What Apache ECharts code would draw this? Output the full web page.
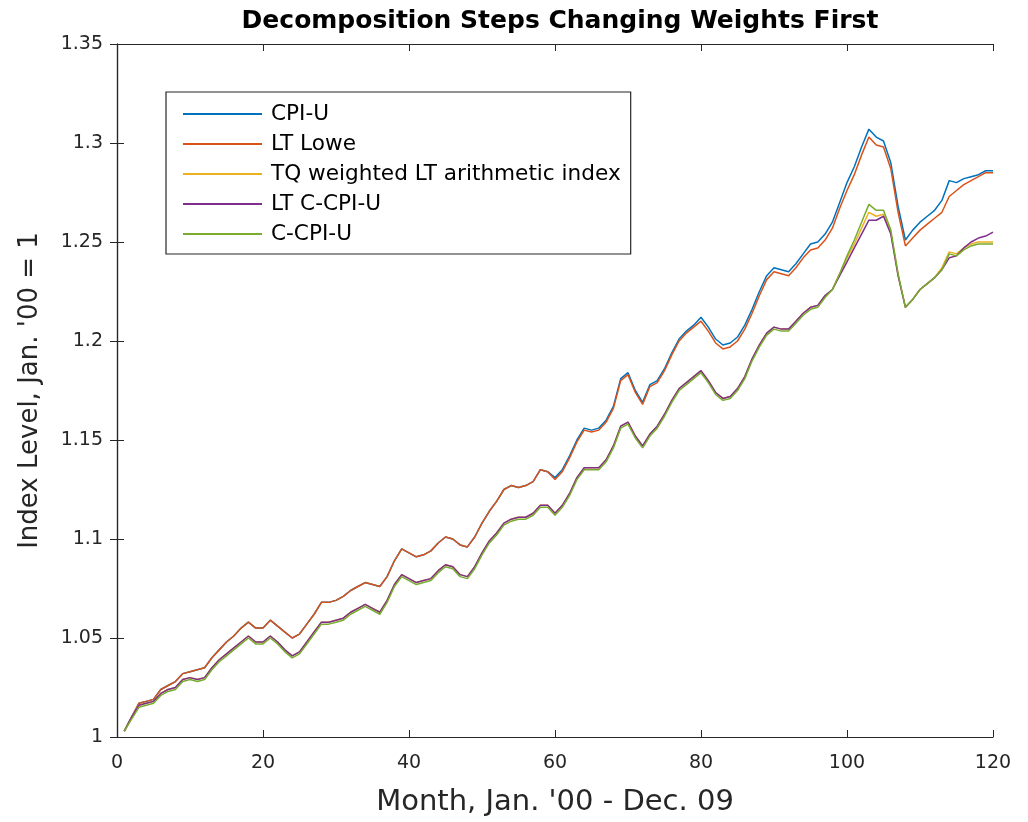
<!DOCTYPE html>
<html><head><meta charset="utf-8">
<script src="https://cdn.jsdelivr.net/npm/echarts@6/dist/echarts.min.js"></script>
<style>html,body{margin:0;padding:0;background:#fff}#c{width:1028px;height:822px}</style>
</head><body><div id="c"></div>
<script>
var months = [];
for (var i = 1; i <= 120; i++) months.push(i);
var seriesNames = ['CPI-U', 'LT Lowe', 'TQ weighted LT arithmetic index', 'LT C-CPI-U', 'C-CPI-U'];
var xTicks = [0, 20, 40, 60, 80, 100, 120];
var yTicks = [1, 1.05, 1.1, 1.15, 1.2, 1.25, 1.3, 1.35];

var cpiU = [1.003,1.010,1.017,1.018,1.019,1.024,1.026,1.028,1.032,1.033,1.034,1.035,1.040,1.044,1.048,1.051,1.055,1.058,1.055,1.055,
1.059,1.056,1.053,1.050,1.052,1.057,1.062,1.068,1.068,1.069,1.071,1.074,1.076,1.078,1.077,1.076,1.081,1.089,1.095,1.093,
1.091,1.092,1.094,1.098,1.101,1.100,1.097,1.096,1.101,1.108,1.114,1.119,1.125,1.127,1.126,1.127,1.129,1.135,1.134,1.131,
1.135,1.142,1.150,1.156,1.155,1.156,1.160,1.167,1.181,1.184,1.175,1.169,1.178,1.180,1.186,1.194,1.201,1.205,1.208,1.212,
1.207,1.201,1.198,1.199,1.202,1.208,1.216,1.225,1.233,1.237,1.236,1.235,1.239,1.244,1.249,1.250,1.254,1.260,1.270,1.280,
1.288,1.298,1.307,1.303,1.301,1.290,1.268,1.251,1.256,1.260,1.263,1.266,1.271,1.281,1.280,1.282,1.283,1.284,1.286,1.286];

var ltLowe = [1.003,1.010,1.017,1.018,1.019,1.024,1.026,1.028,1.032,1.033,1.034,1.035,1.040,1.044,1.048,1.051,1.055,1.058,1.055,1.055,
1.059,1.056,1.053,1.050,1.052,1.057,1.062,1.068,1.068,1.069,1.071,1.074,1.076,1.078,1.077,1.076,1.081,1.089,1.095,1.093,
1.091,1.092,1.094,1.098,1.101,1.100,1.097,1.096,1.101,1.108,1.114,1.119,1.125,1.127,1.126,1.127,1.129,1.135,1.134,1.130,
1.134,1.141,1.149,1.155,1.154,1.155,1.159,1.166,1.180,1.183,1.174,1.168,1.177,1.179,1.185,1.193,1.200,1.204,1.207,1.210,
1.205,1.199,1.196,1.197,1.200,1.206,1.214,1.223,1.231,1.235,1.234,1.233,1.237,1.242,1.246,1.247,1.251,1.257,1.267,1.276,
1.284,1.294,1.303,1.299,1.298,1.287,1.265,1.248,1.252,1.256,1.259,1.262,1.265,1.273,1.276,1.279,1.281,1.283,1.285,1.285];

var tqArith = [1.003,1.010,1.016,1.017,1.018,1.022,1.024,1.025,1.029,1.030,1.029,1.030,1.035,1.039,1.042,1.045,1.048,1.051,1.048,1.048,
1.051,1.048,1.044,1.041,1.043,1.048,1.053,1.058,1.058,1.059,1.060,1.063,1.065,1.067,1.065,1.063,1.069,1.077,1.082,1.080,
1.078,1.079,1.080,1.084,1.087,1.086,1.082,1.081,1.086,1.093,1.099,1.103,1.108,1.110,1.111,1.111,1.113,1.117,1.117,1.113,
1.117,1.123,1.131,1.136,1.136,1.136,1.140,1.147,1.157,1.159,1.152,1.147,1.153,1.157,1.163,1.170,1.176,1.179,1.182,1.185,
1.180,1.174,1.171,1.172,1.176,1.182,1.191,1.198,1.204,1.207,1.206,1.206,1.210,1.214,1.217,1.218,1.223,1.226,1.234,1.242,
1.249,1.257,1.265,1.263,1.264,1.255,1.233,1.217,1.221,1.226,1.229,1.232,1.237,1.245,1.244,1.247,1.249,1.250,1.250,1.250];

var ltCcpiU = [1.003,1.010,1.016,1.017,1.018,1.022,1.024,1.025,1.029,1.030,1.029,1.030,1.035,1.039,1.042,1.045,1.048,1.051,1.048,1.048,
1.051,1.048,1.044,1.041,1.043,1.048,1.053,1.058,1.058,1.059,1.060,1.063,1.065,1.067,1.065,1.063,1.069,1.077,1.082,1.080,
1.078,1.079,1.080,1.084,1.087,1.086,1.082,1.081,1.086,1.093,1.099,1.103,1.108,1.110,1.111,1.111,1.113,1.117,1.117,1.113,
1.117,1.123,1.131,1.136,1.136,1.136,1.140,1.147,1.157,1.159,1.152,1.147,1.153,1.157,1.163,1.170,1.176,1.179,1.182,1.185,
1.180,1.174,1.171,1.172,1.176,1.182,1.191,1.198,1.204,1.207,1.206,1.206,1.210,1.214,1.217,1.218,1.223,1.226,1.233,1.240,
1.247,1.254,1.261,1.261,1.263,1.254,1.233,1.217,1.221,1.226,1.229,1.232,1.236,1.242,1.243,1.247,1.250,1.252,1.253,1.255];

var cCpiU = [1.003,1.009,1.015,1.016,1.017,1.021,1.023,1.024,1.028,1.029,1.028,1.029,1.034,1.038,1.041,1.044,1.047,1.050,1.047,1.047,
1.050,1.047,1.043,1.040,1.042,1.047,1.052,1.057,1.057,1.058,1.059,1.062,1.064,1.066,1.064,1.062,1.068,1.076,1.081,1.079,
1.077,1.078,1.079,1.083,1.086,1.085,1.081,1.080,1.085,1.092,1.098,1.102,1.107,1.109,1.110,1.110,1.112,1.116,1.116,1.112,
1.116,1.122,1.130,1.135,1.135,1.135,1.139,1.146,1.156,1.158,1.151,1.146,1.152,1.156,1.162,1.169,1.175,1.178,1.181,1.184,
1.179,1.173,1.170,1.171,1.175,1.181,1.190,1.197,1.203,1.206,1.205,1.205,1.209,1.213,1.216,1.217,1.222,1.226,1.234,1.243,
1.251,1.260,1.269,1.266,1.266,1.256,1.234,1.217,1.221,1.226,1.229,1.232,1.236,1.244,1.243,1.246,1.248,1.249,1.249,1.249];

var colors = ['#0072BD', '#D95319', '#EDB120', '#7E2F8E', '#77AC30'];
var allData = [cpiU, ltLowe, tqArith, ltCcpiU, cCpiU];
var FONT = 'DejaVu Sans, Verdana, sans-serif';
var AXC = '#262626';

function pairs(arr) { return arr.map(function (v, i) { return [months[i], v]; }); }

var series = seriesNames.map(function (n, k) {
  return {
    name: n, type: 'line', data: pairs(allData[k]), xAxisIndex: 0, yAxisIndex: 0,
    showSymbol: false, symbol: 'none', lineStyle: { width: 1.5, color: colors[k] },
    itemStyle: { color: colors[k] }, z: 2 + k
  };
});

var chart = echarts.init(document.getElementById('c'), null, { renderer: 'canvas' });
chart.setOption({
  animation: false,
  backgroundColor: '#fff',
  textStyle: { fontFamily: FONT },
  title: {
    text: 'Decomposition Steps Changing Weights First', left: 555, top: 4, textAlign: 'center',
    textStyle: { fontFamily: FONT, fontSize: 25, fontWeight: 'bold', color: '#000' }
  },
  grid: { left: 117, right: 35, top: 44, bottom: 85, containLabel: false },
  legend: {
    orient: 'vertical', left: 166, top: 92, padding: [11, 10, 9, 17],
    borderColor: AXC, borderWidth: 1.2, backgroundColor: '#fff',
    itemWidth: 79, itemHeight: 2, itemGap: 8, icon: 'rect',
    data: seriesNames,
    textStyle: { fontFamily: FONT, fontSize: 21.6, lineHeight: 21, color: '#000', padding: [0, 0, 0, 4] }
  },
  xAxis: [{
    type: 'value', min: 0, max: 120, interval: 20, position: 'bottom',
    name: "Month, Jan. '00 - Dec. 09", nameLocation: 'middle', nameGap: 51,
    nameTextStyle: { fontFamily: FONT, fontSize: 29, color: AXC },
    axisLine: { show: true, lineStyle: { color: AXC, width: 1.2 } },
    axisTick: { show: true, inside: true, length: 7, lineStyle: { color: AXC } },
    axisLabel: { fontFamily: FONT, fontSize: 19, color: AXC, margin: 17 },
    splitLine: { show: false }
  }, {
    type: 'value', min: 0, max: 120, interval: 20, position: 'top',
    axisLine: { show: true, lineStyle: { color: AXC, width: 1.2 } },
    axisTick: { show: true, inside: true, length: 7, lineStyle: { color: AXC } },
    axisLabel: { show: false }, splitLine: { show: false }
  }],
  yAxis: [{
    type: 'value', min: 1, max: 1.35, interval: 0.05, position: 'left',
    name: "Index Level, Jan. '00 = 1", nameLocation: 'middle', nameGap: 74,
    nameTextStyle: { fontFamily: FONT, fontSize: 26, color: AXC },
    axisLine: { show: true, lineStyle: { color: AXC, width: 1.2 } },
    axisTick: { show: true, inside: true, length: 7, lineStyle: { color: AXC } },
    axisLabel: { fontFamily: FONT, fontSize: 19, color: AXC, margin: 14,
      formatter: function (v) { return String(parseFloat(v.toFixed(2))); } },
    splitLine: { show: false }
  }, {
    type: 'value', min: 1, max: 1.35, interval: 0.05, position: 'right',
    axisLine: { show: true, lineStyle: { color: AXC, width: 1.2 } },
    axisTick: { show: true, inside: true, length: 7, lineStyle: { color: AXC } },
    axisLabel: { show: false }, splitLine: { show: false }
  }],
  series: series
});
</script></body></html>
